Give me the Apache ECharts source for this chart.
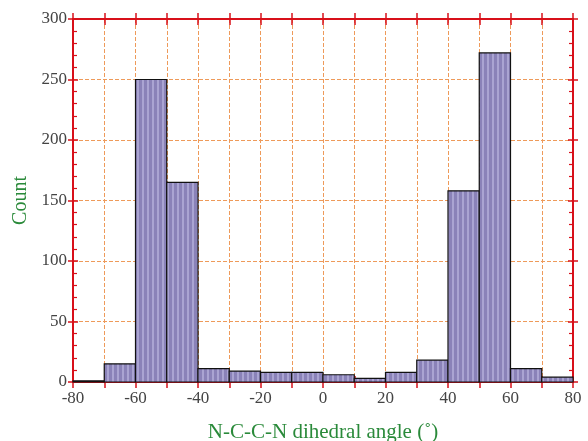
<!DOCTYPE html>
<html>
<head>
<meta charset="UTF-8">
<title>dihedral histogram</title>
<script src="https://cdn.jsdelivr.net/npm/echarts@6/dist/echarts.min.js"></script>
</head>
<body style="margin:0;background:#fff;">
<div id="main" style="width:588px;height:441px;"></div>
<script>
// histogram bins (left edge, degrees) and counts
var binStart = [-80, -70, -60, -50, -40, -30, -20, -10, 0, 10, 20, 30, 40, 50, 60, 70];
var binWidth = 10;
var counts = [1, 15, 250, 165, 11, 9, 8, 8, 6, 3, 8, 18, 158, 272, 11, 4];

var red = '#d8101a';
var gridColor = '#ee9a5a';
var serif = 'Liberation Serif, Times New Roman, serif';

// striped fill for the bars
function stripes() {
  var c = document.createElement('canvas');
  c.width = 5; c.height = 8;
  var ctx = c.getContext('2d');
  ctx.fillStyle = '#8a82b8';
  ctx.fillRect(0, 0, 5, 8);
  ctx.fillStyle = '#aaa4d2';
  ctx.fillRect(2, 0, 2, 8);
  return c;
}
var pattern = stripes();

var data = binStart.map(function (s, i) {
  return [s, s + binWidth, counts[i]];
});

function xAx(pos, inside, main) {
  return {
    type: 'value', position: pos, min: -80, max: 80, interval: 10,
    axisLine: { show: true, onZero: false, lineStyle: { color: red, width: 2 } },
    axisTick: { show: true, inside: inside, length: 6, lineStyle: { color: red, width: 1.5 } },
    axisLabel: {
      show: main, color: '#444', fontFamily: serif, fontSize: 17, margin: 8,
      formatter: function (v) { return v % 20 === 0 ? v : ''; }
    },
    splitLine: { show: main, lineStyle: { color: gridColor, type: 'dashed', width: 1 } },
    name: main ? 'N-C-C-N dihedral angle (\u02DA)' : '',
    nameLocation: 'middle', nameGap: 40,
    nameTextStyle: { color: '#2a8a3a', fontFamily: serif, fontSize: 21 }
  };
}

function yAx(pos, inside, main, minor) {
  return {
    type: 'value', position: pos, min: 0, max: 300, interval: 50,
    axisLine: { show: true, onZero: false, lineStyle: { color: red, width: 2 } },
    axisTick: { show: true, inside: inside, length: 5, lineStyle: { color: red, width: 1.5 } },
    minorTick: { show: minor, splitNumber: 5, length: 4, lineStyle: { color: red, width: 1.2 } },
    axisLabel: { show: main, color: '#444', fontFamily: serif, fontSize: 17, margin: 6 },
    splitLine: { show: main, lineStyle: { color: gridColor, type: 'dashed', width: 1 } },
    name: main ? 'Count' : '',
    nameLocation: 'middle', nameGap: 40,
    nameTextStyle: { color: '#2a8a3a', fontFamily: serif, fontSize: 20 }
  };
}

var myChart = echarts.init(document.getElementById('main'));

var option = {
  animation: false,
  backgroundColor: '#fff',
  grid: { left: 73, right: 15, top: 19, bottom: 59, outerBoundsMode: 'none', containLabel: false },
  xAxis: [
    xAx('bottom', false, true),
    xAx('bottom', true, false),
    xAx('top', false, false),
    xAx('top', true, false)
  ],
  yAxis: [
    yAx('left', false, true, false),
    yAx('left', true, false, true),
    yAx('right', true, false, true),
    yAx('right', false, false, false)
  ],
  series: [{
    type: 'custom',
    xAxisIndex: 0,
    yAxisIndex: 0,
    z: 3,
    data: data,
    renderItem: function (params, api) {
      var p0 = api.coord([api.value(0), 0]);
      var p1 = api.coord([api.value(1), api.value(2)]);
      return {
        type: 'rect',
        shape: { x: p0[0], y: p1[1], width: p1[0] - p0[0], height: p0[1] - p1[1] },
        style: { fill: { image: pattern, repeat: 'repeat' }, stroke: '#111', lineWidth: 1.2 }
      };
    }
  }]
};
myChart.setOption(option);
</script>
</body>
</html>
